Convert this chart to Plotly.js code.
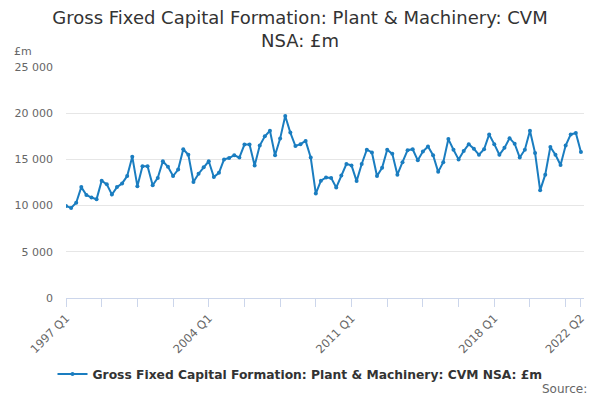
<!DOCTYPE html>
<html>
<head>
<meta charset="utf-8">
<script src="https://cdn.plot.ly/plotly-3.0.1.min.js"></script>
<style>
  html, body { margin: 0; padding: 0; background: #fff; }
  #chart { width: 600px; height: 400px; }
</style>
</head>
<body>
<div id="chart"></div>
<script>
// quarterly series, 1997 Q1 to 2022 Q2
var years = [1997, 1998, 1999, 2000, 2001, 2002, 2003, 2004, 2005, 2006, 2007, 2008, 2009,
             2010, 2011, 2012, 2013, 2014, 2015, 2016, 2017, 2018, 2019, 2020, 2021, 2022];

var values = [
  9950, 9750, 10300, 12000,
  11150, 10870, 10700, 12700,
  12300, 11200, 12000, 12400,
  13200, 15300, 12100, 14250,
  14250, 12200, 13000, 14800,
  14200, 13200, 13900, 16100,
  15500, 12550, 13450, 14150,
  14800, 13100, 13550, 15000,
  15150, 15450, 15200, 16600,
  16600, 14350, 16500, 17500,
  18100, 15450, 17250, 19700,
  17900, 16450, 16650, 17000,
  15200, 11300, 12700, 13050,
  13000, 11950, 13250, 14500,
  14350, 12650, 14500, 16050,
  15750, 13200, 14100, 16050,
  15600, 13350, 14700, 16000,
  16100, 14900, 15850, 16400,
  15450, 13650, 14700, 17200,
  16050, 15000, 15900, 16650,
  16150, 15500, 16100, 17700,
  16650, 15500, 16250, 17300,
  16700, 15200, 16050, 18100,
  15700, 11650, 13350, 16350,
  15500, 14400, 16500, 17700,
  17850, 15800
];

var seriesName = 'Gross Fixed Capital Formation: Plant & Machinery: CVM NSA: £m';

var quarters = [];
years.forEach(function (y) {
  [1, 2, 3, 4].forEach(function (q) { quarters.push(y + ' Q' + q); });
});
quarters = quarters.slice(0, values.length);

// tick marks every 7 quarters, labels every 28 plus the last one
var tickVals = [], tickText = [];
for (var i = 0; i < quarters.length; i += 7) {
  tickVals.push(quarters[i]);
  tickText.push(i % 28 === 0 ? quarters[i] : '');
}
tickVals.push(quarters[quarters.length - 1]);
tickText.push(quarters[quarters.length - 1]);

var data = [{
  x: quarters,
  y: values,
  name: '<b>' + seriesName + '</b>',
  type: 'scatter',
  mode: 'lines+markers',
  line: { color: '#1a7dc0', width: 2 },
  marker: { color: '#1a7dc0', size: 4 }
}];

var layout = {
  width: 600,
  height: 400,
  margin: { l: 66, r: 16, t: 67, b: 102 },
  paper_bgcolor: '#fff',
  plot_bgcolor: '#fff',
  font: { family: 'DejaVu Sans, Verdana, sans-serif', color: '#666', size: 11 },
  separators: '. ',
  title: {
    text: 'Gross Fixed Capital Formation: Plant & Machinery: CVM<br>NSA: £m',
    font: { size: 18, color: '#333' },
    x: 0.5, xref: 'container', xanchor: 'center',
    y: 0.94, yref: 'container', yanchor: 'top'
  },
  xaxis: {
    type: 'category',
    range: [0, 101.6],
    tickmode: 'array',
    tickvals: tickVals,
    ticktext: tickText,
    tickangle: -45,
    ticks: 'outside',
    ticklen: 8,
    tickcolor: '#ccd6eb',
    showline: true,
    linecolor: '#ccd6eb',
    linewidth: 1,
    showgrid: false,
    zeroline: false,
    tickfont: { size: 11.5, color: '#666' }
  },
  yaxis: {
    range: [0, 25000],
    dtick: 5000,
    tickformat: ',d',
    showgrid: true,
    gridcolor: '#e6e6e6',
    zeroline: false,
    showline: false,
    ticks: '',
    ticklabelstandoff: 12,
    tickfont: { size: 11, color: '#666' }
  },
  showlegend: true,
  legend: {
    orientation: 'h',
    xref: 'container',
    x: 0.5,
    xanchor: 'center',
    yref: 'container',
    y: 0.065,
    yanchor: 'middle',
    font: { size: 12.3, color: '#333' }
  },
  annotations: [
    {
      text: '£m', xref: 'paper', yref: 'paper', x: -0.104, y: 1.065,
      xanchor: 'left', yanchor: 'middle', showarrow: false,
      font: { size: 11, color: '#666' }
    },
    {
      text: 'Source:', xref: 'paper', yref: 'paper', x: 1.01, y: -0.355,
      xanchor: 'right', yanchor: 'top', showarrow: false,
      font: { size: 12, color: '#666' }
    }
  ]
};

Plotly.newPlot('chart', data, layout, { displayModeBar: false, staticPlot: true });
</script>
</body>
</html>
